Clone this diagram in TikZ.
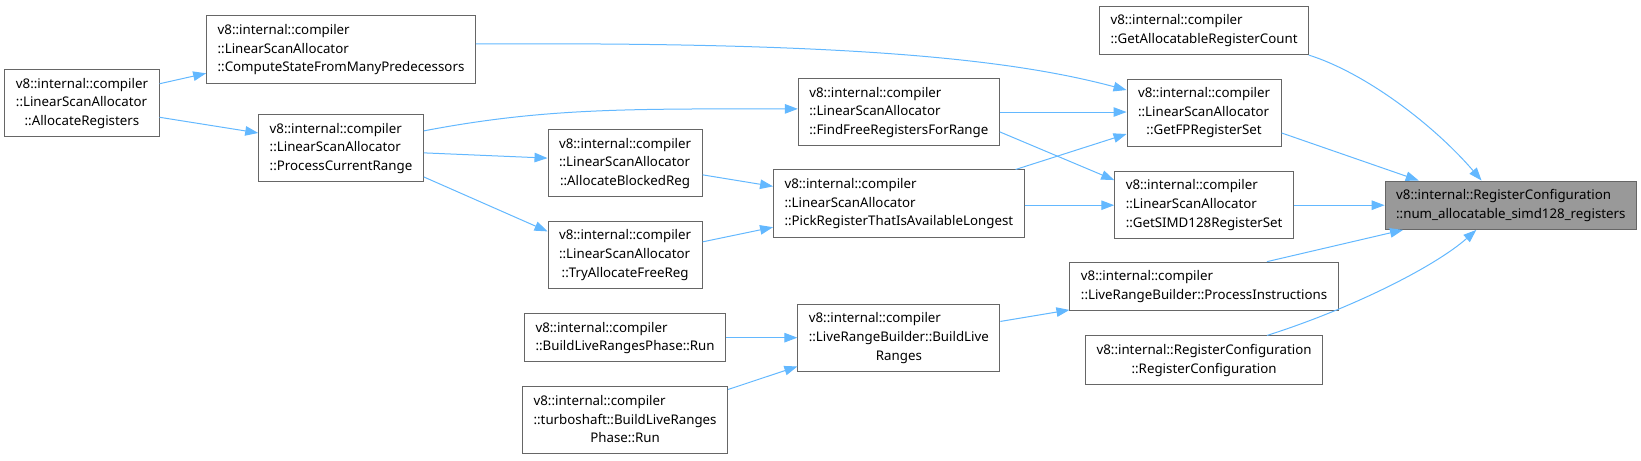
\documentclass[tikz,border=0pt]{standalone}
\usepackage{fontspec}
\setmainfont{Noto Sans}
\usetikzlibrary{arrows.meta}
\definecolor{edgeblue}{HTML}{63B8FF}
\definecolor{boxgray}{HTML}{666666}
\definecolor{targetgray}{HTML}{999999}
\newcommand{\fnlabel}[2]{\begin{tabular}{@{}l@{}}#1\\\multicolumn{1}{@{}c@{}}{#2}\end{tabular}}

\begin{document}
\begin{tikzpicture}[
    x=1.047pt,
    y=-1.047pt,
    fn/.style={draw=boxgray, line width=1pt, fill=white,
      inner xsep=11pt, inner ysep=5.5pt,
      font=\fontsize{13.3}{18.7}\selectfont},
    target/.style={fn, fill=targetgray},
    call/.style={draw=edgeblue, line width=1pt,
      -{Triangle[length=13pt,width=9.5pt]}}
  ]

  \useasboundingbox (0,0) rectangle (1567.3,439.4);

  \node[fn] (allocregs) at (78.3,98.4)
    {\fnlabel{v8::internal::compiler\\::LinearScanAllocator}{::AllocateRegisters}};
  \node[fn] (computestate) at (325.7,47.3)
    {\fnlabel{v8::internal::compiler\\::LinearScanAllocator}{::ComputeStateFromManyPredecessors}};
  \node[fn] (processrange) at (325.7,141.4)
    {\fnlabel{v8::internal::compiler\\::LinearScanAllocator}{::ProcessCurrentRange}};
  %
  \node[fn] (allocblocked) at (597,155.7)
    {\fnlabel{v8::internal::compiler\\::LinearScanAllocator}{::AllocateBlockedReg}};
  \node[fn] (tryfree) at (597,243.5)
    {\fnlabel{v8::internal::compiler\\::LinearScanAllocator}{::TryAllocateFreeReg}};
  \node[fn] (phaserun) at (597,322.5)
    {\fnlabel{v8::internal::compiler}{::BuildLiveRangesPhase::Run}};
  \node[fn] (tsphaserun) at (597,401.5)
    {\fnlabel{v8::internal::compiler\\::turboshaft::BuildLiveRanges}{Phase::Run}};
  %
  \node[fn] (findfree) at (858.5,107)
    {\fnlabel{v8::internal::compiler\\::LinearScanAllocator}{::FindFreeRegistersForRange}};
  \node[fn] (pickreg) at (858.5,194.4)
    {\fnlabel{v8::internal::compiler\\::LinearScanAllocator}{::PickRegisterThatIsAvailableLongest}};
  \node[fn] (buildlive) at (858.5,322.5)
    {\fnlabel{v8::internal::compiler\\::LiveRangeBuilder::BuildLive}{Ranges}};
  %
  \node[fn] (regcount) at (1150,29)
    {\fnlabel{v8::internal::compiler}{::GetAllocatableRegisterCount}};
  \node[fn] (fpset) at (1150,107.5)
    {\fnlabel{v8::internal::compiler\\::LinearScanAllocator}{::GetFPRegisterSet}};
  \node[fn] (simdset) at (1150,195.5)
    {\fnlabel{v8::internal::compiler\\::LinearScanAllocator}{::GetSIMD128RegisterSet}};
  \node[fn] (processinstr) at (1150,273.5)
    {\fnlabel{v8::internal::compiler}{::LiveRangeBuilder::ProcessInstructions}};
  \node[fn] (regconfig) at (1150,344)
    {\fnlabel{v8::internal::RegisterConfiguration}{::RegisterConfiguration}};
  %
  \node[target] (numsimd) at (1443,196)
    {\fnlabel{v8::internal::RegisterConfiguration}{::num\_allocatable\_simd128\_registers}};

  % first column
  \draw[call] (allocregs.east |- 0,80) -- (computestate.west |- 0,70);
  \draw[call] (allocregs.east |- 0,112) -- (processrange.west |- 0,127);
  \draw[call] (computestate.east |- 0,42)
    .. controls (800,40) and (960,55) .. (fpset.west |- 0,86);
  \draw[call] (processrange.east |- 0,125)
    .. controls (520,103) and (600,104) .. (findfree.west |- 0,104);
  \draw[call] (processrange.east |- 0,146) -- (allocblocked.west |- 0,151);
  \draw[call] (processrange.east |- 0,169) -- (tryfree.west |- 0,221);
  % middle
  \draw[call] (allocblocked.east |- 0,167) -- (pickreg.west |- 0,178);
  \draw[call] (tryfree.east |- 0,231) -- (pickreg.west |- 0,217);
  \draw[call] (phaserun) -- (buildlive);
  \draw[call] (tsphaserun.east |- 0,372) -- (buildlive.west |- 0,350);
  \draw[call] (findfree.east |- 0,107) -- (fpset.west |- 0,107);
  \draw[call] (findfree.east |- 0,126) -- (simdset.west |- 0,172);
  \draw[call] (pickreg.north -| 970,0) -- (fpset.west |- 0,128);
  \draw[call] (pickreg.east |- 0,196) -- (simdset.west |- 0,196);
  \draw[call] (buildlive.east |- 0,307) -- (processinstr.west |- 0,296);
  % into the target
  \draw[call] (regcount.south -| 1250,0)
    .. controls (1305,70) and (1370,120) .. (numsimd.north -| 1415,0);
  \draw[call] (fpset.east |- 0,127) -- (numsimd.north -| 1355,0);
  \draw[call] (simdset.east |- 0,196) -- (numsimd.west |- 0,196);
  \draw[call] (processinstr.north -| 1210,0) -- (numsimd.south -| 1340,0);
  \draw[call] (regconfig.north -| 1210,0)
    .. controls (1290,295) and (1370,255) .. (numsimd.south -| 1410,0);
\end{tikzpicture}
\end{document}
